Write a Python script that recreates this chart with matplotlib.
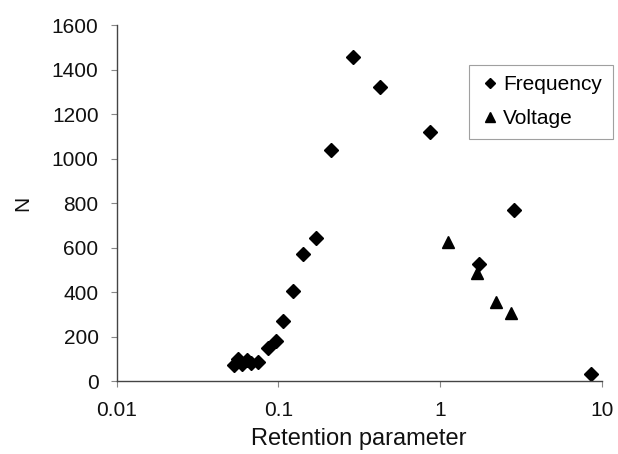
import matplotlib
matplotlib.use("Agg")
import matplotlib.pyplot as plt
from matplotlib.ticker import FixedLocator, FixedFormatter, NullLocator

plt.rcParams['font.family'] = ['Liberation Sans', 'DejaVu Sans']

# Frequency series
freq_x = [0.053, 0.056, 0.060, 0.064, 0.068, 0.075, 0.0867, 0.0968, 0.1074,
          0.1236, 0.1416, 0.171, 0.212, 0.288, 0.4256, 0.869, 1.746, 2.85, 8.57]
freq_y = [72, 100, 80, 95, 84, 86, 149, 183, 273,
          405, 571, 645, 1040, 1458, 1323, 1121, 527, 770, 34]

# Voltage series
volt_x = [1.117, 1.69, 2.21, 2.74]
volt_y = [627, 488, 358, 309]

x_ticks = [0.01, 0.1, 1, 10]
x_tick_labels = ["0.01", "0.1", "1", "10"]
y_ticks = [0, 200, 400, 600, 800, 1000, 1200, 1400, 1600]

fig = plt.figure(figsize=(6.18, 4.54), dpi=100)
ax = fig.add_axes([0.1888, 0.1597, 0.9736 - 0.1888, 0.9449 - 0.1597])

ax.plot(freq_x, freq_y, linestyle='none', marker='D', markersize=7.0,
        color='black', label='Frequency')
ax.plot(volt_x, volt_y, linestyle='none', marker='^', markersize=9,
        color='black', label='Voltage')

ax.set_xscale('log')
ax.set_xlim(0.01, 10)
ax.set_ylim(0, 1600)
ax.xaxis.set_major_locator(FixedLocator(x_ticks))
ax.xaxis.set_major_formatter(FixedFormatter(x_tick_labels))
ax.xaxis.set_minor_locator(NullLocator())
ax.set_yticks(y_ticks)

for side in ('top', 'right'):
    ax.spines[side].set_visible(False)
for side in ('left', 'bottom'):
    ax.spines[side].set_color('#444444')
    ax.spines[side].set_linewidth(1.0)

ax.tick_params(axis='both', direction='out', length=4, width=0.8,
               color='#888888', labelsize=15, labelcolor='#111111')
ax.tick_params(axis='y', pad=9)
ax.tick_params(axis='x', pad=10)

ax.set_xlabel('Retention parameter', fontsize=17, color='#111111', labelpad=6)
ax.set_ylabel('N', fontsize=15, color='#111111', labelpad=14)

leg = ax.legend(loc='upper left', bbox_to_anchor=(0.7264, 0.8878),
                fontsize=15, frameon=True, fancybox=False, borderpad=0.5,
                handletextpad=0.15, handlelength=1.0, labelspacing=0.72,
                borderaxespad=0, markerscale=0.8)
leg.get_frame().set_edgecolor('#888888')
leg.get_frame().set_linewidth(0.8)

fig.savefig('out.png', dpi=100)
